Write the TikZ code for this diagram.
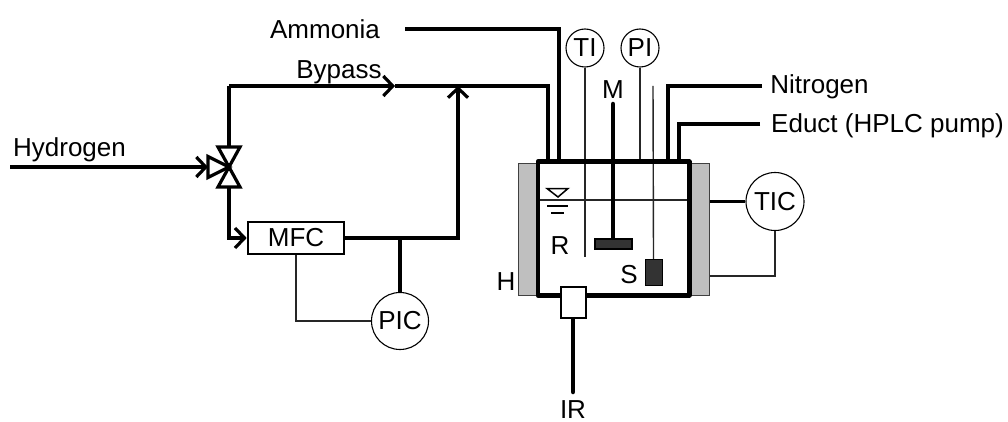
\documentclass[tikz,border=0pt]{standalone}
\usepackage{fontspec}
\setmainfont{Liberation Sans}
\usetikzlibrary{arrows.meta}
\tikzset{
  x=1pt,y=-1pt,
  lbl/.style={inner sep=0pt,font=\fontsize{26}{26}\selectfont,text=black},
  pipe/.style={line width=3.6pt,line join=miter,black},
  thin line/.style={line width=1.4pt,black!85},
  barb/.style={-{Straight Barb[length=9.5pt,width=20pt,line width=3.2pt]}},
  instr/.style={circle,draw=black,line width=1.1pt,fill=white,inner sep=0pt,font=\fontsize{26}{26}\selectfont},
  box/.style={rectangle,draw=black,line width=2.6pt,fill=white,inner sep=0pt},
  jacket/.style={fill=black!25,draw=black!75,line width=1pt},
  dark/.style={rectangle,fill=black!80,draw=black,inner sep=0pt},
}
\begin{document}
\begin{tikzpicture}
\useasboundingbox (0,0) rectangle (1008,422);
% heating jackets
\node[jacket,rectangle,inner sep=0pt,minimum width=20pt,minimum height=131pt] (jl) at (528,229.5) {};
\node[jacket,rectangle,inner sep=0pt,minimum width=20pt,minimum height=131pt] (jr) at (699.5,229.5) {};
% vessel
\node[rectangle,fill=white,inner sep=0pt,minimum width=151pt,minimum height=133pt] (vessel) at (613.5,228.5) {};
% coordinates
\coordinate (vt) at (229,167);
\coordinate (cbl) at (229,86);
\coordinate (bptip) at (395,86);
\coordinate (join) at (458,86);
\coordinate (cbr) at (548,86);
\coordinate (cbv) at (548,162);
\coordinate (cml) at (229,238);
\coordinate (cmr) at (458,238);
\coordinate (tap) at (400,238);
\coordinate (hs) at (10,167);
\coordinate (vl) at (208,167);
\coordinate (am1) at (405,29);
\coordinate (am2) at (559,29);
\coordinate (am3) at (559,162);
\coordinate (n1) at (762,86);
\coordinate (n2) at (668,86);
\coordinate (n3) at (668,162);
\coordinate (e1) at (760,124);
\coordinate (e2) at (679,124);
\coordinate (e3) at (679,162);
\coordinate (irend) at (573,392);
\coordinate (mtop) at (613,104);
% liquid level
\draw[thin line] (538,200) -- (689,200);
\draw[line width=1.5pt] (558,197) -- (547,188.5) -- (568,188.5) -- cycle;
\draw[line width=1.3pt] (547,206) -- (568,206) (551,213) -- (564,213);
% instruments
\node[instr,minimum size=38pt] (TI) at (585,48) {TI};
\node[instr,minimum size=38pt] (PI) at (640,48) {PI};
\node[instr,minimum size=58pt] (TIC) at (775,201.5) {TIC};
\node[instr,minimum size=57pt] (PIC) at (400,321) {PIC};
\node[box,minimum width=96pt,minimum height=32pt,font=\fontsize{26}{26}\selectfont] (MFC) at (296,238) {MFC};
% thin probes
\draw[thin line] (TI.south) -- (585,257);
\draw[thin line] (PI.south) -- (640,162);
\coordinate (stop) at (653,86);
\node[dark,minimum width=17pt,minimum height=26pt] (Ssens) at (653.5,272) {};
\draw[thin line] (stop) -- (Ssens.north);
% stirrer
\node[dark,line width=2.5pt,minimum width=37pt,minimum height=10pt] (imp) at (613.5,244) {};
\draw[line width=4.5pt,line cap=round] (mtop) -- (imp.north -| mtop);
% pipes into vessel
\draw[pipe] (am1) -- (am2) -- (am3);
\draw[pipe] (n1) -- (n2) -- (n3);
\draw[pipe] (e1) -- (e2) -- (e3);
\draw[pipe,barb] (cbl) -- (bptip);
\draw[pipe] (bptip) -- (cbr) -- (cbv);
\draw[pipe] (vt) ++(0,-20) -- (cbl);
\draw[pipe,barb] (hs) -- (vl);
\draw[pipe,barb] (229,187) -- (cml) -- (MFC.west);
\draw[pipe,barb] (MFC.east) -- (cmr) -- (join);
\draw[pipe] (tap) -- (PIC.north);
\draw[thin line] (MFC.south) |- (PIC.west);
% valve
\draw[line width=3.2pt,line join=miter,fill=white] (vt) -- (218,147) -- (240,147) -- cycle;
\draw[line width=3.2pt,line join=miter,fill=white] (vt) -- (218,187) -- (240,187) -- cycle;
\draw[line width=3.2pt,line join=miter,fill=white] (vt) -- (208,156.5) -- (208,177.5) -- cycle;
% vessel wall
\draw[line width=4.6pt,line cap=round,line join=round] (vessel.north west) rectangle (vessel.south east);
% TIC connections
\draw[pipe] (jr.east |- TIC.west) -- (TIC.west);
\draw[thin line] (TIC.south) |- (709.5,276);
% IR
\node[box,line width=2.8pt,minimum width=25pt,minimum height=31pt] (irbox) at (573.5,302.5) {};
\draw[line width=4.5pt,line cap=round] (irbox.south -| irend) -- (irend);
% labels
\node[lbl] (tHyd) at (69.5,149.5) {Hydrogen};
\node[lbl] (tByp) at (339,72.5) {Bypass};
\node[lbl] (tAmm) at (325,29) {Ammonia};
\node[lbl] (tNit) at (819.5,87) {Nitrogen};
\node[lbl,anchor=west] (tEdu) at (771,126) {Educt (HPLC pump)};
\node[lbl] (tM) at (613,90) {M};
\node[lbl] (tR) at (560,246) {R};
\node[lbl] (tS) at (629,275) {S};
\node[lbl] (tH) at (506,282) {H};
\node[lbl] (tIR) at (573,409.5) {IR};
\end{tikzpicture}
\end{document}
